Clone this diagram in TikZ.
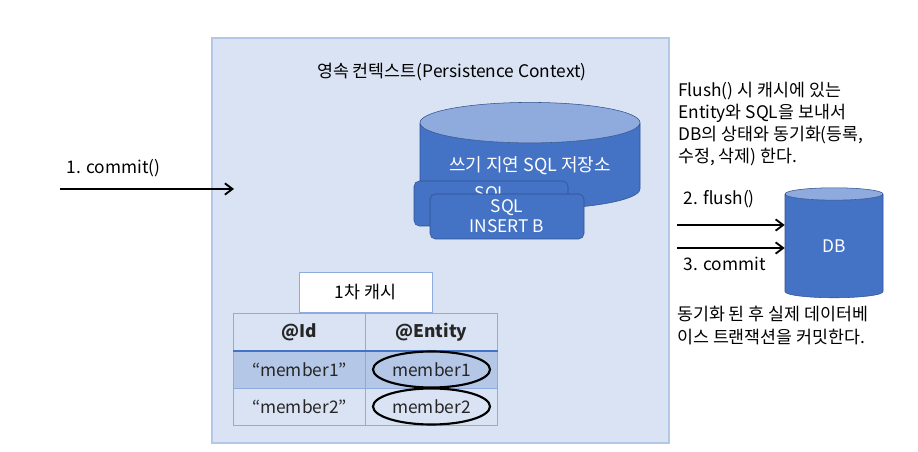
\documentclass[tikz,border=0pt]{standalone}
\usepackage{fontspec}
\setmainfont{Noto Sans CJK KR}
\usetikzlibrary{arrows.meta,positioning,shapes.geometric}
\definecolor{ctxfill}{HTML}{DAE3F3}
\definecolor{ctxline}{HTML}{B4C7E7}
\definecolor{sqlblue}{HTML}{4472C4}
\definecolor{sqlline}{HTML}{2F528F}
\definecolor{sqltop}{HTML}{8FAADC}
\definecolor{rowfill}{HTML}{B4C7E7}
\definecolor{ink}{HTML}{262626}
\tikzset{ctx/.style={draw=ctxline,fill=ctxfill,line width=1.2pt,minimum width=342.75pt,minimum height=303.75pt},
 store/.style={cylinder,shape border rotate=90,draw=sqlline,cylinder uses custom fill,
 cylinder body fill=sqlblue,cylinder end fill=sqltop,text=white,inner sep=0pt},
 sqlbox/.style={draw=sqlline,fill=sqlblue,rounded corners=4pt,text=white,minimum width=115.5pt,
 minimum height=33.75pt,align=center,inner sep=0pt,font=\fontsize{13}{15}\selectfont},
 cachebox/.style={draw=sqltop,fill=white,minimum width=99.75pt,minimum height=30pt},
 cell/.style={draw=sqltop,minimum width=99pt,minimum height=28pt,text=ink},
 ring/.style={ellipse,draw,line width=1.6pt,minimum width=87.75pt,minimum height=27pt,inner sep=0pt,text=ink},
 arr/.style={-{Straight Barb[length=2mm,width=3mm]},line width=1.4pt}}
\begin{document}
\begin{tikzpicture}[x=0.75pt,y=-0.75pt,font=\fontsize{13}{16.5}\selectfont]
\useasboundingbox (0,0) rectangle (918,452);
% persistence context
\node[ctx] (ctx) at (440.5,240.5) {};
\node (title) at (452,72) {영속 컨텍스트(Persistence Context)};
\node[store,minimum width=165pt,minimum height=80pt,aspect=0.25,font=\fontsize{13.5}{16}\selectfont]
 (store) at (530,166) {쓰기 지연 SQL 저장소};
\node[sqlbox] (sqla) at (491,203.5) {SQL\\\phantom{INSERT A}};
\node[sqlbox] (sqlb) at (507,216.5) {SQL\\INSERT B};
% first level cache
\node[cachebox] (cache) at (365.5,292) {1차 캐시};
\node[cell] (hid) at (299.5,332) {\textbf{@Id}};
\node[cell] (hent) at (431.5,332) {\textbf{@Entity}};
\node[cell,fill=rowfill] (id1) at (299.5,369.5) {“member1”};
\node[cell,fill=rowfill] (ent1) at (431.5,369.5) {};
\node[cell] (id2) at (299.5,406.5) {“member2”};
\node[cell] (ent2) at (431.5,406.5) {};
\draw[sqlblue,line width=1.5pt] (hid.south west) -- (hent.south east);
\node[ring] (m1) at (ent1) {member1};
\node[ring] (m2) at (ent2) {member2};
% commit from outside
\coordinate (cin) at (60,189);
\coordinate (cend) at (234,189);
\draw[arr] (cin) -- (cend);
\node[anchor=west] (commit) at (62,168) {1. commit()};
% database
\node[store,minimum width=73.5pt,minimum height=82.5pt,aspect=0.53] (db) at (834,246) {DB};
\coordinate (fl) at (677,225);
\coordinate (cm) at (677,248);
\draw[arr] (fl) -- (fl -| db.west);
\draw[arr] (cm) -- (cm -| db.west);
\node[anchor=west] (flush) at (679,199) {2. flush()};
\node[anchor=west] (commit2) at (679,264) {3. commit};
\node[anchor=north west,align=left,inner sep=0pt] (note) at (678,82)
 {Flush() 시 캐시에 있는\\Entity와 SQL을 보내서\\DB의 상태와 동기화(등록,\\수정, 삭제) 한다.};
\node[anchor=north west,align=left,inner sep=0pt,font=\fontsize{13}{17}\selectfont] (note2) at (677,306)
 {동기화 된 후 실제 데이터베\\이스 트랜잭션을 커밋한다.};
\end{tikzpicture}
\end{document}
